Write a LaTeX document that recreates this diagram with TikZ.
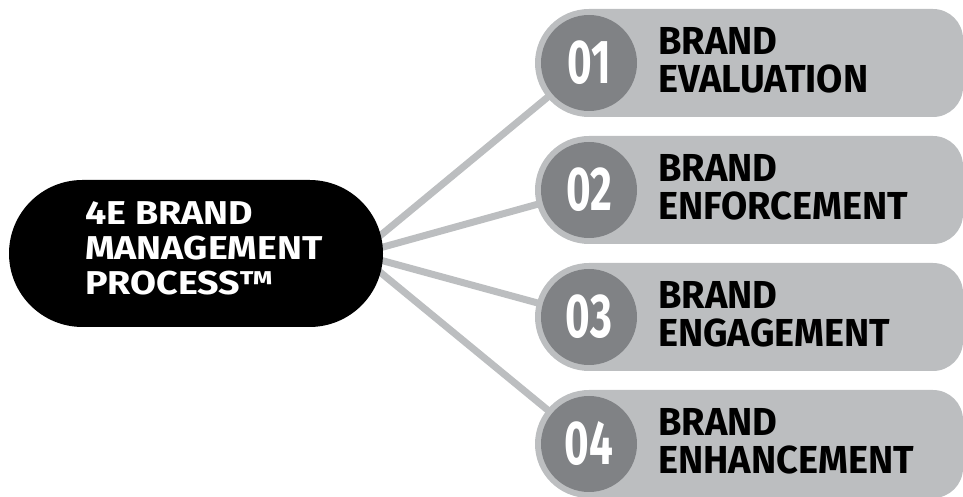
\documentclass[tikz,border=0pt]{standalone}
\usepackage{fontspec}
\setmainfont{Fira Sans}[FakeStretch=1.14]
\newfontfamily\digitfont{Fira Sans}[FakeStretch=0.68]
\newfontfamily\labelfont{Fira Sans}[FakeStretch=0.975]
\usetikzlibrary{shapes.misc,backgrounds}
\definecolor{pillgray}{HTML}{BCBEC0}
\definecolor{circgray}{HTML}{808285}
\begin{document}
\begin{tikzpicture}[x=1pt,y=1pt,
  hubline/.style={draw=pillgray, line width=7pt},
  numcircle/.style={circle, fill=circgray, minimum size=96pt, inner sep=0pt, text=white, font=\digitfont\bfseries\fontsize{62}{62}\selectfont},
  pillbg/.style={fill=pillgray},
  mainbox/.style={rounded rectangle, fill=black, minimum width=374pt, minimum height=147pt, inner sep=0pt},
  maintext/.style={anchor=west, align=left, inner sep=0pt, text=white, font=\bfseries\fontsize{33}{35}\selectfont},
  steptext/.style={anchor=west, align=left, inner sep=0pt, text=black, font=\labelfont\bfseries\fontsize{39}{38}\selectfont}]
\useasboundingbox (0,0) rectangle (963,497);
\coordinate (hub) at (358,243);
\foreach \c/\n/\a/\b [count=\i] in {434/01/BRAND/EVALUATION, 307/02/BRAND/ENFORCEMENT, 180/03/BRAND/ENGAGEMENT, 53/04/BRAND/ENHANCEMENT}{
  \fill[pillbg] (589,\c+54) -- (933,\c+54) arc[start angle=90,end angle=0,radius=30] -- (963,\c-24) arc[start angle=0,end angle=-90,radius=30] -- (589,\c-54) arc[start angle=270,end angle=90,radius=54] -- cycle;
  \node[numcircle] (c\i) at (589,\c) {\n};
  \node[steptext] (t\i) at (658,\c+2.5) {\a\\\b};
  \begin{pgfonlayer}{background}
    \draw[hubline] (hub) -- (c\i.center);
  \end{pgfonlayer}
}
\node[mainbox] (main) at (196,243.5) {};
\node[maintext] (maintitle) at (85,249) {4E BRAND\\MANAGEMENT\\PROCESS\texttrademark};
\end{tikzpicture}
\end{document}
